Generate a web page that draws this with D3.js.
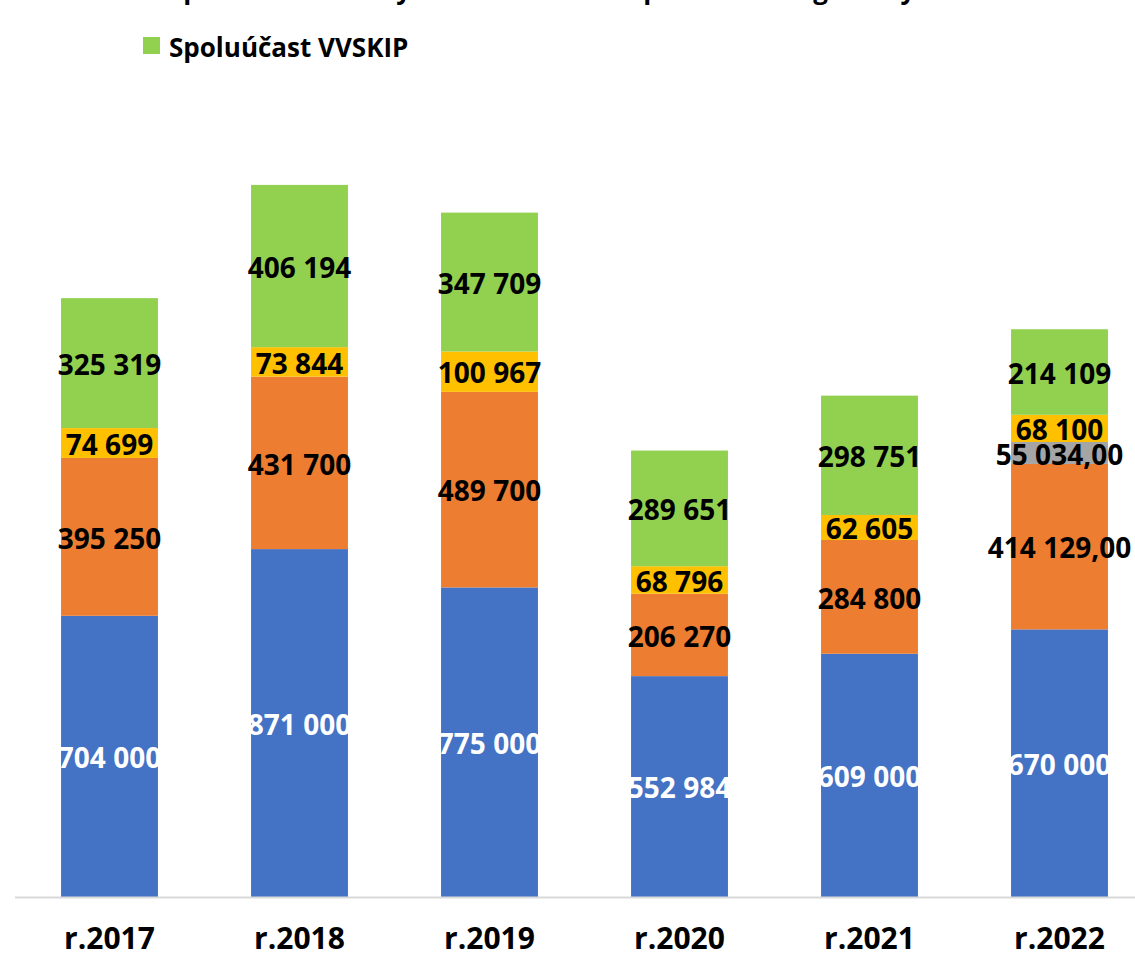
<!DOCTYPE html>
<html lang="sk">
  <head>
    <meta charset="UTF-8" />
    <title>Spoluúčasť podľa rokov</title>
    <script src="https://d3js.org/d3.v7.min.js"></script>
    <style>
      body {
        margin: 0;
        background: #fff;
        font-family: 'Open Sans', Arial, sans-serif;
      }
      .legend text {
        font-size: 26px;
        font-weight: bold;
      }
      .val {
        font-size: 28px;
        font-weight: bold;
      }
      .xlab {
        font-size: 30px;
        font-weight: bold;
      }
    </style>
  </head>
  <body>
    <div id="chart"></div>
    <script>
      const years = ['r.2017', 'r.2018', 'r.2019', 'r.2020', 'r.2021', 'r.2022'];

      const seriesNames = [
        'Dotácia MK SR',
        'Spoluúčast mesta',
        'Spoluúčast fakulty',
        'Spoluúčast z agentúry',
        'Spoluúčast VVSKIP',
      ];
      const seriesColors = ['#4472C4', '#ED7D31', '#A5A5A5', '#FFC000', '#92D050'];

      const blueVals = [704000, 871000, 775000, 552984, 609000, 670000];
      const orangeVals = [395250, 431700, 489700, 206270, 284800, 414129];
      const grayVals = [0, 0, 0, 0, 0, 55034];
      const yellowVals = [74699, 73844, 100967, 68796, 62605, 68100];
      const greenVals = [325319, 406194, 347709, 289651, 298751, 214109];

      // labels shown with ",00" in the original
      const decimalLabels = [
        ['Spoluúčast mesta', 'r.2022'],
        ['Spoluúčast fakulty', 'r.2022'],
      ];

      const width = 1135,
        height = 953,
        baseY = 897;

      const svg = d3
        .select('#chart')
        .append('svg')
        .attr('width', width)
        .attr('height', height);

      const allVals = [blueVals, orangeVals, grayVals, yellowVals, greenVals];
      const rows = years.map((yr, i) => {
        const r = { year: yr };
        seriesNames.forEach((s, k) => (r[s] = allVals[k][i]));
        return r;
      });
      const stacked = d3.stack().keys(seriesNames)(rows);

      const x = d3
        .scaleBand()
        .domain(years)
        .range([14.5, 1154.5])
        .paddingInner(0.49)
        .paddingOuter(0.245);
      const y = d3.scaleLinear().domain([0, 2000000]).range([baseY, baseY - 2000000 / 2503.5]);

      const color = d3.scaleOrdinal().domain(seriesNames).range(seriesColors);

      const fmt = (v, dec) => {
        const s = d3.format(',d')(Math.round(v)).replace(/,/g, ' ');
        return dec ? s + ',00' : s;
      };

      // bars
      const layers = svg
        .selectAll('.layer')
        .data(stacked)
        .enter()
        .append('g')
        .attr('class', 'layer')
        .attr('fill', (d) => color(d.key));

      layers
        .selectAll('rect')
        .data((d) => d)
        .enter()
        .append('rect')
        .attr('x', (d) => x(d.data.year))
        .attr('width', x.bandwidth())
        .attr('y', (d) => y(d[1]))
        .attr('height', (d) => y(d[0]) - y(d[1]));

      // axis line
      svg
        .append('line')
        .attr('x1', 15)
        .attr('x2', width)
        .attr('y1', baseY + 0.5)
        .attr('y2', baseY + 0.5)
        .attr('stroke', '#d9d9d9')
        .attr('stroke-width', 2);

      // value labels
      stacked.forEach((layer) => {
        svg
          .append('g')
          .selectAll('text')
          .data(layer.filter((d) => d[1] - d[0] > 0))
          .enter()
          .append('text')
          .attr('class', 'val')
          .attr('x', (d) => x(d.data.year) + x.bandwidth() / 2)
          .attr('y', (d) => (y(d[0]) + y(d[1])) / 2)
          .attr('dy', '0.42em')
          .attr('text-anchor', 'middle')
          .attr('fill', layer.key === seriesNames[0] ? '#fff' : '#000')
          .text((d) =>
            fmt(
              d[1] - d[0],
              decimalLabels.some((p) => p[0] === layer.key && p[1] === d.data.year),
            ),
          );
      });

      // category labels
      svg
        .selectAll('.xlab')
        .data(years)
        .enter()
        .append('text')
        .attr('class', 'xlab')
        .attr('x', (d) => x(d) + x.bandwidth() / 2)
        .attr('y', 949)
        .attr('text-anchor', 'middle')
        .text((d) => d);

      // legend (upper rows are cut off by the top edge)
      const legendPos = [
        [143, -59],
        [603, -59],
        [143, -1],
        [603, -1],
        [143, 57],
      ];
      const legend = svg
        .append('g')
        .attr('class', 'legend')
        .selectAll('g')
        .data(seriesNames)
        .enter()
        .append('g')
        .attr('transform', (d, i) => `translate(${legendPos[i][0]},${legendPos[i][1]})`);
      legend
        .append('rect')
        .attr('x', 0)
        .attr('y', -20)
        .attr('width', 17)
        .attr('height', 17)
        .attr('fill', (d) => color(d));
      legend
        .append('text')
        .attr('x', 26)
        .attr('y', 0)
        .text((d) => d);
    </script>
  </body>
</html>
